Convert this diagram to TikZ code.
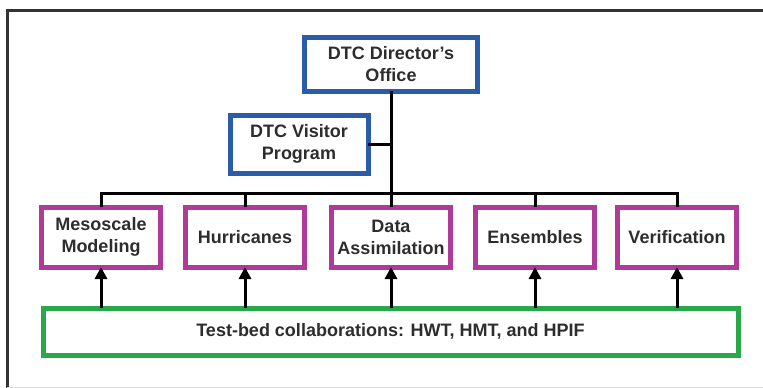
\documentclass[tikz,border=0pt]{standalone}
\usepackage{fontspec}
\setmainfont{Liberation Sans}
\usetikzlibrary{arrows.meta}
\definecolor{dtcblue}{RGB}{42,92,170}
\definecolor{dtcmag}{RGB}{176,58,152}
\definecolor{dtcgreen}{RGB}{40,168,72}
\definecolor{txt}{RGB}{45,45,45}
\tikzset{
  base/.style={draw, fill=white, align=center, inner sep=2pt, outer sep=0pt,
    text=txt, font=\fontsize{18}{22}\selectfont\bfseries},
  office/.style={base, draw=dtcblue, line width=5pt},
  area/.style={base, draw=dtcmag, line width=5pt, minimum width=119pt, minimum height=60pt},
  testbed/.style={base, draw=dtcgreen, line width=5pt},
  link/.style={draw=black, line width=3pt},
  up/.style={link, -{Triangle[width=12pt,length=12pt]}},
  frame/.style={draw=black!80, line width=3pt}
}
\begin{document}
\begin{tikzpicture}[x=1pt,y=-1pt]
\useasboundingbox (0,0) rectangle (763,388);
\fill[white] (0,0) rectangle (763,388);
\coordinate (fl) at (7,388);
\coordinate (ft) at (7,10);
\coordinate (fr) at (763,10);
\draw[frame] (fl) -- (ft) -- (fr);
\draw[black!15, line width=1pt] (7,387) -- (763,387);

\node[office, minimum width=173pt, minimum height=54pt] (dir) at (391,64) {DTC Director’s\\Office};
\node[office, minimum width=138pt, minimum height=58pt] (vis) at (299,144) {DTC Visitor\\Program};

\node[area] (m1) at (101,237) {Mesoscale\\Modeling};
\node[area] (m2) at (245,237) {Hurricanes};
\node[area] (m3) at (391,237) {Data\\Assimilation};
\node[area] (m4) at (535,237) {Ensembles};
\node[area] (m5) at (677,237) {Verification};

\node[testbed, minimum width=695pt, minimum height=47pt] (tb) at (390.5,331.5) {Test-bed collaborations: HWT, HMT, and HPIF};

\coordinate (bus) at (391,193);
\draw[link] (dir.south) -- (bus);
\draw[link] (vis.east) -- (vis.east -| bus);
\draw[link] (m1.north) -- (m1.north |- bus) -- (m5.north |- bus) -- (m5.north);
\draw[link] (m2.north) -- (m2.north |- bus);
\draw[link] (m3.north) -- (m3.north |- bus);
\draw[link] (m4.north) -- (m4.north |- bus);

\foreach \m in {m1,m2,m3,m4,m5}
  \draw[up] (tb.north -| \m.south) -- (\m.south);
\end{tikzpicture}
\end{document}
